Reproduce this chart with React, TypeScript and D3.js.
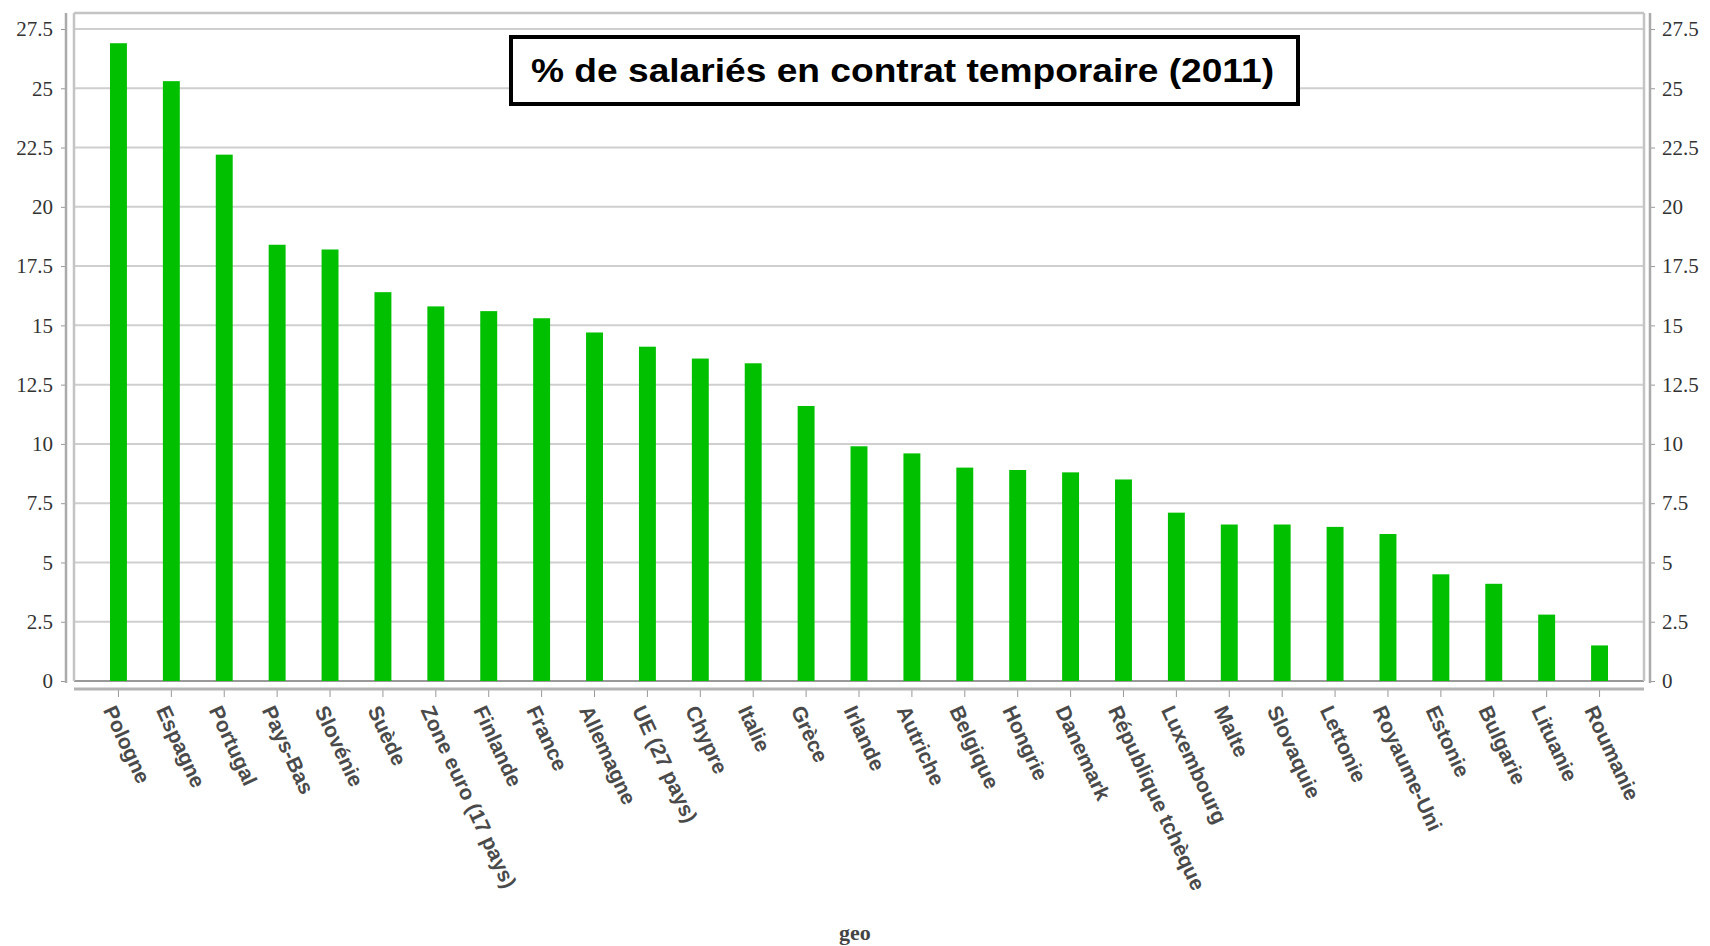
import React, { useEffect, useRef } from 'react';
import * as d3 from 'd3';

const countries = [
  'Pologne', 'Espagne', 'Portugal', 'Pays-Bas', 'Slovénie', 'Suède', 'Zone euro (17 pays)',
  'Finlande', 'France', 'Allemagne', 'UE (27 pays)', 'Chypre', 'Italie', 'Grèce', 'Irlande',
  'Autriche', 'Belgique', 'Hongrie', 'Danemark', 'République tchèque', 'Luxembourg', 'Malte',
  'Slovaquie', 'Lettonie', 'Royaume-Uni', 'Estonie', 'Bulgarie', 'Lituanie', 'Roumanie',
];
const shares = [
  26.9, 25.3, 22.2, 18.4, 18.2, 16.4, 15.8,
  15.6, 15.3, 14.7, 14.1, 13.6, 13.4, 11.6, 9.9,
  9.6, 9.0, 8.9, 8.8, 8.5, 7.1, 6.6,
  6.6, 6.5, 6.2, 4.5, 4.1, 2.8, 1.5,
];
const yTicks = [0, 2.5, 5, 7.5, 10, 12.5, 15, 17.5, 20, 22.5, 25, 27.5];
const chartTitle = '% de salariés en contrat temporaire (2011)';

export default function App() {
  const ref = useRef<SVGSVGElement>(null);

  useEffect(() => {
    const svg = d3.select(ref.current);
    svg.selectAll('*').remove();

    // plot frame
    const left = 74, right = 1644, top = 13;
    const x = d3.scaleBand<string>().domain(countries).range([92, 1626]).paddingInner(0.68).paddingOuter(0.34);
    const y = d3.scaleLinear().domain([0, 27.5]).range([681, 29]);

    // gridlines
    svg.append('g').selectAll('line').data(yTicks).join('line')
      .attr('x1', left).attr('x2', right)
      .attr('y1', d => y(d)).attr('y2', d => y(d))
      .attr('stroke', d => d === 0 ? '#999' : '#cfcfcf').attr('stroke-width', 2);

    // frame lines
    const frame = svg.append('g').attr('stroke', '#c4c4c4').attr('stroke-width', 2.5);
    frame.append('line').attr('x1', left).attr('x2', right).attr('y1', top).attr('y2', top);
    frame.append('line').attr('x1', left).attr('x2', left).attr('y1', top).attr('y2', y(0));
    frame.append('line').attr('x1', right).attr('x2', right).attr('y1', top).attr('y2', y(0));

    // bars
    svg.append('g').selectAll('rect').data(shares).join('rect')
      .attr('x', (d, i) => x(countries[i])!)
      .attr('width', x.bandwidth())
      .attr('y', d => y(d))
      .attr('height', d => y(0) - y(d))
      .attr('fill', '#00c000');

    // left axis
    const yl = svg.append('g').attr('transform', 'translate(66,0)')
      .call(d3.axisLeft(y).tickValues(yTicks).tickSize(5).tickPadding(8).tickFormat(d => String(d)));
    yl.select('.domain').remove();
    yl.append('line').attr('x1', 0).attr('x2', 0).attr('y1', top).attr('y2', y(0) + 2)
      .attr('stroke', '#aaa').attr('stroke-width', 2.5);
    yl.selectAll('.tick line').attr('stroke', '#999');
    yl.selectAll('.tick text').attr('font-family', 'Liberation Serif, serif').attr('font-size', 21).attr('fill', '#333');

    // right axis
    const yr = svg.append('g').attr('transform', 'translate(1650,0)')
      .call(d3.axisRight(y).tickValues(yTicks).tickSize(5).tickPadding(7).tickFormat(d => String(d)));
    yr.select('.domain').remove();
    yr.append('line').attr('x1', 0).attr('x2', 0).attr('y1', top).attr('y2', y(0) + 2)
      .attr('stroke', '#aaa').attr('stroke-width', 2.5);
    yr.selectAll('.tick line').attr('stroke', '#999');
    yr.selectAll('.tick text').attr('font-family', 'Liberation Serif, serif').attr('font-size', 21).attr('fill', '#333');

    // bottom axis
    const xb = svg.append('g').attr('transform', 'translate(0,689)')
      .call(d3.axisBottom(x).tickSize(8).tickFormat(() => ''));
    xb.select('.domain').remove();
    xb.append('line').attr('x1', left).attr('x2', right).attr('y1', 0).attr('y2', 0)
      .attr('stroke', '#b4b4b4').attr('stroke-width', 3);
    xb.selectAll('.tick line').attr('stroke', '#999');

    svg.append('g').selectAll('text').data(countries).join('text')
      .attr('transform', d => `translate(${x(d)! + x.bandwidth() / 2 - 9},707) rotate(65)`)
      .attr('dy', '0.35em')
      .attr('font-family', 'Liberation Sans, Arial, sans-serif')
      .attr('font-size', 21)
      .attr('font-weight', 'bold')
      .attr('fill', '#4a4a4a')
      .text(d => d);

    // axis title
    svg.append('text')
      .attr('x', 855).attr('y', 940)
      .attr('text-anchor', 'middle')
      .attr('font-family', 'Liberation Serif, serif')
      .attr('font-weight', 'bold')
      .attr('font-size', 22)
      .attr('fill', '#444')
      .text('geo');

    // title box
    svg.append('rect')
      .attr('x', 511).attr('y', 37).attr('width', 787).attr('height', 67)
      .attr('fill', '#fff').attr('stroke', '#000').attr('stroke-width', 4);
    svg.append('text')
      .attr('x', 531).attr('y', 82)
      .attr('textLength', 743)
      .attr('lengthAdjust', 'spacingAndGlyphs')
      .attr('font-family', 'Liberation Sans, Arial, sans-serif')
      .attr('font-weight', 'bold')
      .attr('font-size', 33)
      .attr('fill', '#000')
      .text(chartTitle);
  }, []);

  return (
    <svg ref={ref} width={1710} height={946} style={{ position: 'absolute', left: 0, top: 0, background: '#fff' }} />
  );
}
